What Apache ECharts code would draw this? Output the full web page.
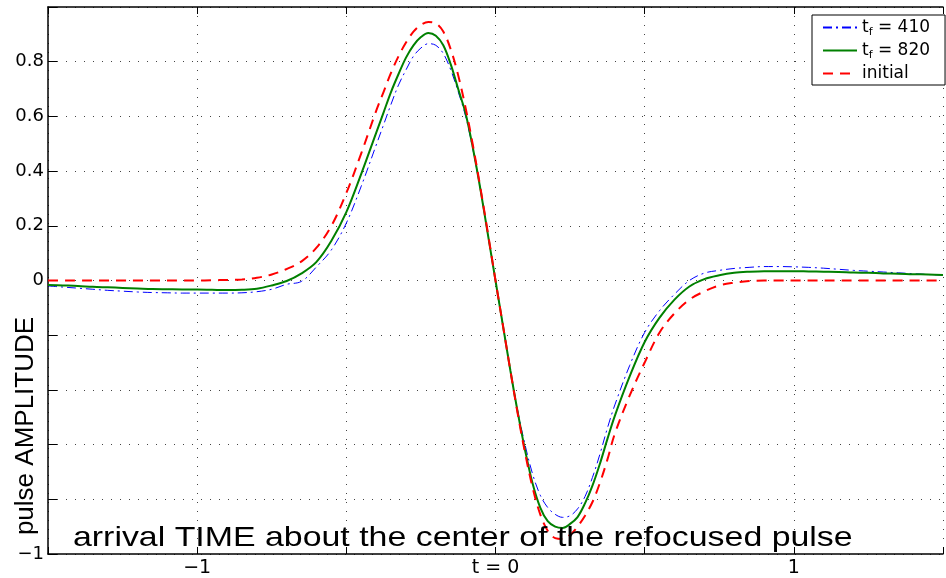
<!DOCTYPE html>
<html><head><meta charset="utf-8">
<script src="https://cdn.jsdelivr.net/npm/echarts@6/dist/echarts.min.js"></script>
<style>html,body{margin:0;padding:0;background:#fff}#c{width:946px;height:578px}</style>
</head><body><div id="c"></div>
<script>
// arrival time t (x axis)
const tValues = [-1.5,-1.45,-1.4,-1.35,-1.3,-1.25,-1.2,-1.15,-1.1,-1.05,-1.0,-0.95,-0.9,-0.85,-0.8,-0.75,-0.7,-0.65,-0.6,-0.55,-0.5,-0.45,-0.4,
  -0.375,-0.35,-0.325,-0.3,-0.275,-0.25,-0.225,-0.2,-0.175,-0.15,-0.125,-0.1,-0.075,-0.05,-0.025,0,0.025,0.05,0.075,0.1,0.125,0.15,0.175,0.2,0.225,0.25,0.275,0.3,0.325,0.35,0.375,0.4,
  0.45,0.5,0.55,0.6,0.65,0.7,0.75,0.8,0.85,0.9,0.95,1.0,1.05,1.1,1.15,1.2,1.25,1.3,1.35,1.4,1.45,1.5];
// t_f = 410 (blue dash-dot)
const amp410 = [-0.02,-0.024,-0.028,-0.032,-0.036,-0.039,-0.042,-0.044,-0.045,-0.046,-0.046,-0.046,-0.046,-0.045,-0.041,-0.032,-0.014,-0.003,0.05,0.112,0.21,0.345,0.495,
  0.57,0.645,0.715,0.77,0.82,0.85,0.866,0.86,0.83,0.77,0.69,0.6,0.475,0.33,0.165,0,-0.165,-0.33,-0.48,-0.605,-0.71,-0.785,-0.83,-0.855,-0.866,-0.86,-0.835,-0.79,-0.72,-0.635,-0.54,-0.455,
  -0.31,-0.19,-0.11,-0.05,0.0,0.027,0.037,0.044,0.048,0.051,0.051,0.05,0.048,0.045,0.041,0.037,0.034,0.031,0.028,0.025,0.022,0.02];
// t_f = 820 (green solid)
const amp820 = [-0.016,-0.018,-0.02,-0.023,-0.025,-0.027,-0.029,-0.031,-0.032,-0.033,-0.033,-0.034,-0.035,-0.034,-0.03,-0.018,-0.002,0.026,0.068,0.145,0.25,0.39,0.54,
  0.615,0.69,0.755,0.815,0.86,0.89,0.905,0.895,0.86,0.79,0.7,0.61,0.48,0.33,0.165,0,-0.165,-0.33,-0.485,-0.625,-0.745,-0.83,-0.88,-0.9,-0.905,-0.89,-0.865,-0.815,-0.75,-0.67,-0.58,-0.495,
  -0.35,-0.225,-0.136,-0.07,-0.022,0.005,0.019,0.028,0.032,0.034,0.034,0.034,0.033,0.032,0.031,0.029,0.028,0.026,0.025,0.023,0.022,0.02];
// initial pulse (red dashed)
const ampInitial = [0,0,0,0,0,0,0,0,0,0,0,0.001,0.002,0.004,0.01,0.022,0.042,0.07,0.12,0.2,0.32,0.465,0.62,
  0.69,0.76,0.82,0.87,0.91,0.935,0.945,0.94,0.91,0.845,0.75,0.63,0.49,0.335,0.17,0,-0.165,-0.33,-0.49,-0.635,-0.76,-0.855,-0.915,-0.942,-0.945,-0.93,-0.9,-0.86,-0.81,-0.74,-0.655,-0.56,
  -0.42,-0.3,-0.19,-0.12,-0.07,-0.04,-0.018,-0.008,-0.002,0,0,0,0,0,0,0,0,0,0,0,0,0];

const seriesNames = ['410','820','initial'];
const yTickLabelValues = [-1,0,0.2,0.4,0.6,0.8];
const xTickLabelValues = [-1,0,1];
const xTickLabelTexts = ['\u22121','t = 0','1'];

function pairs(ys){ return tValues.map((t,i)=>[t, ys[i]]); }
const near = (a,b)=>Math.abs(a-b)<1e-6;

const chart = echarts.init(document.getElementById('c'), null, {renderer:'canvas'});
const font = 'DejaVu Sans';
const gridDots = {type:[1,8], color:'#444', width:1};

chart.setOption({
  animation:false,
  backgroundColor:'#fff',
  grid:{left:48, top:7, width:906, height:549, containLabel:false},
  xAxis:[{
    type:'value', min:-1.5, max:1.5, interval:0.5,
    axisLine:{onZero:false, lineStyle:{color:'#000', width:1.5}},
    axisTick:{inside:true, length:7, lineStyle:{color:'#000'}},
    splitLine:{show:true, lineStyle:gridDots},
    axisLabel:{margin:5, color:'#000', fontFamily:font, fontSize:19, showMinLabel:true, showMaxLabel:true,
      formatter:v=>{ const i = xTickLabelValues.findIndex(x=>near(x,v)); return i>=0 ? xTickLabelTexts[i] : ''; }}
  },{
    type:'value', position:'top', min:-1.5, max:1.5, interval:0.5,
    axisLine:{show:true, onZero:false, lineStyle:{color:'#000', width:1.5}},
    axisTick:{inside:true, length:7, lineStyle:{color:'#000'}},
    splitLine:{show:false}, axisLabel:{show:false}
  }],
  yAxis:[{
    type:'value', min:-1, max:1, interval:0.2,
    axisLine:{show:true, onZero:false, lineStyle:{color:'#000', width:1.5}},
    axisTick:{show:true, inside:true, length:9, lineStyle:{color:'#000'}},
    splitLine:{show:true, lineStyle:gridDots},
    axisLabel:{margin:4, color:'#000', fontFamily:font, fontSize:18, showMinLabel:true,
      formatter:v=>{ if(!yTickLabelValues.some(y=>near(y,v))) return ''; if(near(v,-1)) return '\u22121'; if(near(v,0)) return '0'; return String(Math.round(v*10)/10); }}
  }],
  legend:{
    orient:'vertical', left:812, top:15, padding:[4,15,3,10], itemGap:4,
    itemWidth:34, itemHeight:12, itemTextGap:7,
    backgroundColor:'#fff', borderColor:'#000', borderWidth:1, borderRadius:0,
    itemStyle:{opacity:0},
    data:seriesNames,
    formatter:n=> n==='initial' ? '{a|initial}' : '{a|t}{s|f}{a| = '+n+'}',
    textStyle:{color:'#000', fontFamily:font, fontSize:17,
      rich:{a:{fontFamily:font, fontSize:17, color:'#000'}, s:{fontFamily:font, fontSize:11, color:'#000', padding:[10,0,0,0]}}}
  },
  series:[
    {name:seriesNames[0], type:'line', data:pairs(amp410), symbol:'none', smooth:0.35, z:2,
     lineStyle:{color:'#0000ff', width:1, type:[9,4,2,4]}, itemStyle:{color:'#0000ff'}},
    {name:seriesNames[1], type:'line', data:pairs(amp820), symbol:'none', smooth:0.35, z:3,
     lineStyle:{color:'#008000', width:2, type:'solid'}, itemStyle:{color:'#008000'}},
    {name:seriesNames[2], type:'line', data:pairs(ampInitial), symbol:'none', smooth:0.35, z:4,
     lineStyle:{color:'#ff0000', width:2, type:[10,7]}, itemStyle:{color:'#ff0000'}}
  ],
  graphic:[
    {type:'text', x:73, y:538, scaleX:1.21, z:100,
     style:{text:'arrival TIME about the center of the refocused pulse', font:'28px "Liberation Sans"', fill:'#000', align:'left', verticalAlign:'middle'}},
    {type:'text', x:26, y:426, rotation:Math.PI/2, z:100,
     style:{text:'pulse AMPLITUDE', font:'26px "Liberation Sans"', fill:'#000', align:'center', verticalAlign:'middle'}}
  ]
});
</script></body></html>
